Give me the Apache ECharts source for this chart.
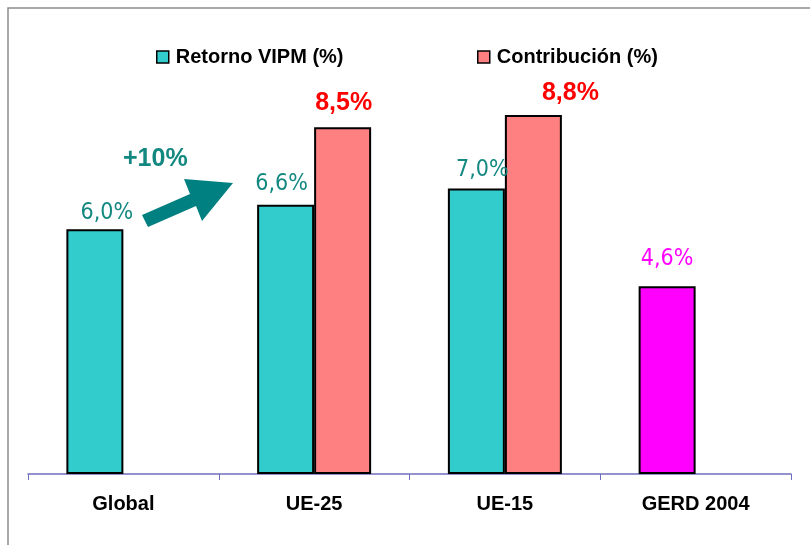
<!DOCTYPE html>
<html lang="es">
<head>
<meta charset="UTF-8">
<title>Retorno VIPM</title>
<script src="https://cdn.jsdelivr.net/npm/echarts@6/dist/echarts.min.js"></script>
<style>
  html, body { margin: 0; padding: 0; background: #fff; }
  #main { width: 810px; height: 545px; }
</style>
</head>
<body>
<div id="main"></div>
<script>
// datos
var categorias = ['Global', 'UE-25', 'UE-15', 'GERD 2004'];
var retorno = [6.0, 6.6, 7.0, 4.6];
var contribucion = [null, 8.5, 8.8, null];
var nombres = ['Retorno VIPM (%)', 'Contribución (%)'];

// desplazamiento de etiquetas [dx, dy]
var offRetorno = [[12, -4], [-4, -8], [6, -6], [0, -15]];
var offContrib = [[0, 0], [1, -11], [37, -8], [0, 0]];

var labelFont = "'Liberation Sans Narrow', 'DejaVu Sans Condensed', sans-serif";

function fmt(p) {
    return p.value.toFixed(1).replace('.', ',') + '%';
}

var dataRetorno = retorno.map(function (v, i) {
    var item = { value: v, label: { offset: offRetorno[i] } };
    if (i == 3) {
        item.itemStyle = { color: '#FF00FF' };
        item.label.color = '#FF00FF';
    }
    return item;
});
var dataContrib = contribucion.map(function (v, i) {
    return { value: v, label: { offset: offContrib[i] } };
});

var legendText = { fontFamily: 'Arial, Liberation Sans', fontWeight: 'bold', fontSize: 20, color: '#000', padding: [0, 0, 0, 2] };

var chart = echarts.init(document.getElementById('main'));
chart.setOption({
    animation: false,
    backgroundColor: '#fff',
    grid: { left: 28, right: 19, top: 66, bottom: 71 },
    legend: [{
        left: 151, top: 42,
        data: [nombres[0]],
        icon: 'rect', itemWidth: 12, itemHeight: 12, itemGap: 0,
        itemStyle: { borderColor: '#000', borderWidth: 1.5 },
        textStyle: legendText
    }, {
        left: 472, top: 42,
        data: [nombres[1]],
        icon: 'rect', itemWidth: 12, itemHeight: 12, itemGap: 0,
        itemStyle: { borderColor: '#000', borderWidth: 1.5 },
        textStyle: legendText
    }],
    xAxis: {
        type: 'category',
        data: categorias,
        axisLine: { lineStyle: { color: '#6f6fc0', width: 1.5 } },
        axisTick: { show: true, length: 6, lineStyle: { color: '#6f6fc0', width: 1 } },
        axisLabel: { margin: 20, color: '#000', fontWeight: 'bold', fontSize: 20, fontFamily: 'Arial, Liberation Sans' }
    },
    yAxis: {
        type: 'value', min: 0, max: 10,
        show: false
    },
    series: [{
        name: nombres[0],
        type: 'bar',
        barWidth: 57,
        barGap: '0%',
        data: dataRetorno,
        itemStyle: { color: '#33CCCC', borderColor: '#000', borderWidth: 2 },
        label: {
            show: true, position: 'top', distance: 1,
            formatter: fmt,
            color: '#138880', fontSize: 23, fontFamily: labelFont
        }
    }, {
        name: nombres[1],
        type: 'bar',
        barWidth: 57,
        barGap: '0%',
        data: dataContrib,
        itemStyle: { color: '#FF8080', borderColor: '#000', borderWidth: 2 },
        label: {
            show: true, position: 'top', distance: 1,
            formatter: fmt,
            color: '#FF0000', fontSize: 25, fontWeight: 'bold', fontFamily: 'Arial, Liberation Sans'
        }
    }],
    graphic: [{
        type: 'rect',
        shape: { x: 8, y: 8, width: 900, height: 700 },
        style: { fill: null, stroke: '#8c8c8c', lineWidth: 1.5 },
        silent: true
    }, {
        type: 'polygon',
        shape: {
            points: [[142, 215], [190, 194], [184, 179], [233, 183], [202, 221], [196, 206], [148, 227]]
        },
        style: { fill: '#008080' },
        silent: true
    }, {
        type: 'text',
        left: 123, top: 147,
        style: { text: '+10%', fill: '#138880', font: "bold 25px Arial, 'Liberation Sans'" }
    }]
});
</script>
</body>
</html>
